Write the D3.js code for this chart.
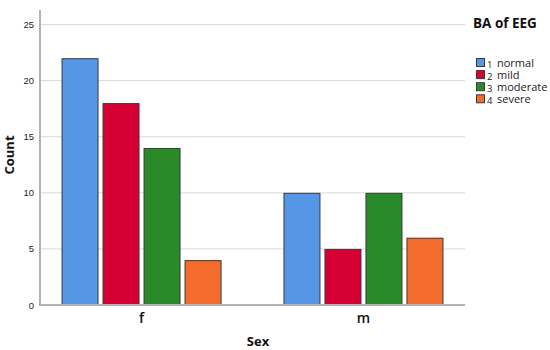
<!DOCTYPE html>
<html><head><meta charset="utf-8">
<script src="https://cdn.jsdelivr.net/npm/d3@7"></script>
<style>body{margin:0;background:#fff}</style>
</head><body>
<svg id="c" width="550" height="350"></svg>
<script>
const categories = ["f", "m"];
const seriesCodes = ["1", "2", "3", "4"];
const seriesNames = ["normal", "mild", "moderate", "severe"];
const seriesColors = ["#5596E6", "#D60034", "#2A8A2A", "#F36C2E"];
const valuesF = [22, 18, 14, 4];
const valuesM = [10, 5, 10, 6];
const yTicks = [0, 5, 10, 15, 20, 25];

(function () {
const svg = d3.select("#c");
const mLeft = 40, mRight = 465, mTop = 10, mBottom = 305;
const y = d3.scaleLinear().domain([0, 26.3]).range([mBottom, mTop]);
const x0 = d3.scaleBand().domain(categories).range([mLeft, mRight]).paddingInner(0.279).paddingOuter(0.097);
const x1 = d3.scaleBand().domain(seriesCodes).range([0, x0.bandwidth()]).paddingInner(0.0976).paddingOuter(0);

const data = categories.map((c, i) => ({cat: c, vals: i === 0 ? valuesF : valuesM}));

// gridlines
svg.append("g").selectAll("line").data(yTicks.filter(t => t > 0)).join("line")
  .attr("x1", mLeft).attr("x2", mRight).attr("y1", d => y(d)).attr("y2", d => y(d))
  .attr("stroke", "#d9d9d9").attr("stroke-width", 1);

// y axis
const ya = svg.append("g").attr("transform", `translate(${mLeft},0)`)
  .call(d3.axisLeft(y).tickValues(yTicks).tickSize(0).tickPadding(6));
ya.select(".domain").remove();
ya.selectAll("text").attr("font-family", "Liberation Sans, Arial, sans-serif").attr("font-size", 9.5).attr("fill", "#222");

// bars
const g = svg.append("g").selectAll("g").data(data).join("g")
  .attr("transform", d => `translate(${x0(d.cat)},0)`);
g.selectAll("rect").data(d => d.vals.map((v, i) => ({v, i}))).join("rect")
  .attr("x", d => x1(seriesCodes[d.i]) + 0.5)
  .attr("width", x1.bandwidth() - 1)
  .attr("y", d => y(d.v) + 0.5)
  .attr("height", d => y(0) - y(d.v) - 0.5)
  .attr("fill", d => seriesColors[d.i])
  .attr("stroke", "#3a3a3a").attr("stroke-width", 1);

// axis lines
svg.append("line").attr("x1", mLeft).attr("x2", mLeft).attr("y1", mTop).attr("y2", mBottom + 1)
  .attr("stroke", "#b3b3b3").attr("stroke-width", 2);
svg.append("line").attr("x1", mLeft - 1).attr("x2", mRight).attr("y1", mBottom).attr("y2", mBottom)
  .attr("stroke", "#b3b3b3").attr("stroke-width", 2);

// x category labels
const xa = svg.append("g").attr("transform", `translate(0,${mBottom})`)
  .call(d3.axisBottom(x0).tickSize(0).tickPadding(5));
xa.select(".domain").remove();
xa.selectAll("text").attr("font-family", "Open Sans, sans-serif").attr("font-size", 14).attr("font-weight", 600).attr("fill", "#111").attr("dy", "0.95em");

// axis titles
svg.append("text").attr("x", 258).attr("y", 346).attr("text-anchor", "middle")
  .attr("font-family", "Open Sans, sans-serif").attr("font-weight", "bold").attr("font-size", 13).attr("fill", "#111").text("Sex");
svg.append("text").attr("transform", "translate(14,155) rotate(-90)").attr("text-anchor", "middle")
  .attr("font-family", "Open Sans, sans-serif").attr("font-weight", "bold").attr("font-size", 13).attr("fill", "#111").text("Count");

// legend
svg.append("text").attr("x", 473).attr("y", 28)
  .attr("font-family", "Open Sans, sans-serif").attr("font-weight", "bold").attr("font-size", 13.5).attr("fill", "#111").text("BA of EEG");
const lg = svg.append("g").selectAll("g").data(seriesCodes).join("g")
  .attr("transform", (d, i) => `translate(476,${58 + i * 12.1})`);
lg.append("rect").attr("x", 0.5).attr("y", 0.5).attr("width", 8).attr("height", 8)
  .attr("fill", (d, i) => seriesColors[i]).attr("stroke", "#3a3a3a").attr("stroke-width", 1);
lg.append("text").attr("x", 11).attr("y", 9.5).attr("font-family", "Open Sans, sans-serif").attr("font-size", 9.5).attr("fill", "#222").text(d => d);
lg.append("text").attr("x", 21).attr("y", 8.5).attr("font-family", "Open Sans, sans-serif").attr("font-size", 11).attr("fill", "#222").text((d, i) => seriesNames[i]);
})();
</script>
</body></html>
